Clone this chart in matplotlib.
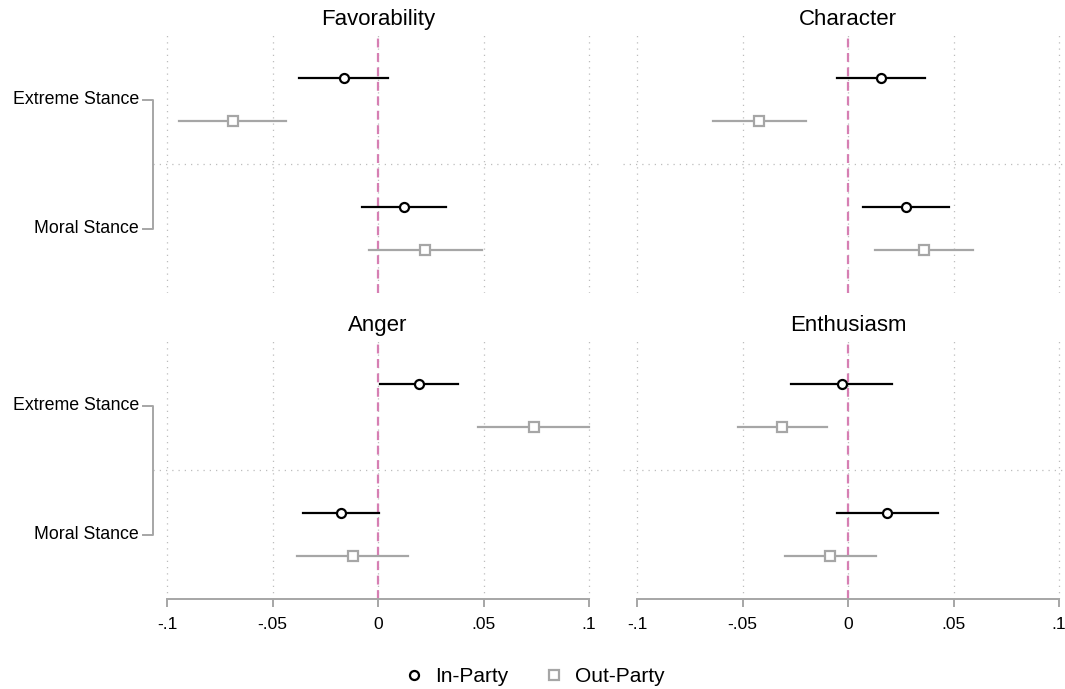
import numpy as np
import matplotlib
matplotlib.use("Agg")
import matplotlib.pyplot as plt
from matplotlib.lines import Line2D
import matplotlib.transforms as mtransforms

plt.rcParams['font.family'] = ['Liberation Sans', 'DejaVu Sans']

# panels and rows
panels = ["Favorability", "Character", "Anger", "Enthusiasm"]
stances = ["Extreme Stance", "Moral Stance"]
groups = ["In-Party", "Out-Party"]

# point estimates, order: [Extreme, Moral]
in_est = {
    "Favorability": [-0.0163, 0.0124],
    "Character": [0.0155, 0.0273],
    "Anger": [0.0195, -0.0176],
    "Enthusiasm": [-0.0030, 0.0186],
}
in_lo = {
    "Favorability": [-0.0373, -0.0075],
    "Character": [-0.0054, 0.0073],
    "Anger": [0.0011, -0.0356],
    "Enthusiasm": [-0.0269, -0.0051],
}
in_hi = {
    "Favorability": [0.0049, 0.0324],
    "Character": [0.0363, 0.0479],
    "Anger": [0.0379, 0.0006],
    "Enthusiasm": [0.0209, 0.0427],
}
out_est = {
    "Favorability": [-0.0688, 0.0223],
    "Character": [-0.0420, 0.0360],
    "Anger": [0.0737, -0.0120],
    "Enthusiasm": [-0.0311, -0.0084],
}
out_lo = {
    "Favorability": [-0.0941, -0.0045],
    "Character": [-0.0641, 0.0130],
    "Anger": [0.0476, -0.0384],
    "Enthusiasm": [-0.0523, -0.0300],
}
out_hi = {
    "Favorability": [-0.0435, 0.0493],
    "Character": [-0.0197, 0.0594],
    "Anger": [0.0999, 0.0142],
    "Enthusiasm": [-0.0098, 0.0134],
}

xticks = [-0.1, -0.05, 0, 0.05, 0.1]
xticklabels = ["-.1", "-.05", "0", ".05", ".1"]

W, H = 1065, 689
fig = plt.figure(figsize=(W / 100, H / 100), dpi=100)

in_color = "black"
out_color = "#a6a6a6"
zero_color = "#d67fb3"
grid_color = "#bdbdbd"

# axes placement in pixels (zero line at 378 / 848, 2110 px per unit)
xlim = (-0.1065, 0.1065)
ax_w = (xlim[1] - xlim[0]) * 2110
zeros_px = [378, 848]
tops_px = [35, 341]
ax_h = 258

axes = []
for i, name in enumerate(panels):
    r, c = divmod(i, 2)
    left = zeros_px[c] - ax_w / 2
    top = tops_px[r]
    ax = fig.add_axes([left / W, 1 - (top + ax_h) / H, ax_w / W, ax_h / H])
    axes.append(ax)

    ax.set_xlim(*xlim)
    ax.set_ylim(6, 0)
    for s in ax.spines.values():
        s.set_visible(False)
    ax.set_yticks([])

    # grid
    for xt in xticks:
        ax.axvline(xt, color=grid_color, lw=0.9, ls=(0, (1, 4)), zorder=0)
    ax.axhline(3, color=grid_color, lw=0.9, ls=(0, (1, 4)), zorder=0)
    ax.axvline(0, color=zero_color, lw=1.6, ls=(0, (4, 2.5)), zorder=1)

    for k in range(2):
        y_in = 1 + 3 * k
        y_out = 2 + 3 * k
        ax.plot([in_lo[name][k], in_hi[name][k]], [y_in, y_in], color=in_color, lw=1.6, zorder=2)
        ax.plot(in_est[name][k], y_in, marker="o", ms=6.5, mfc="white", mec=in_color, mew=1.6, zorder=3)
        ax.plot([out_lo[name][k], out_hi[name][k]], [y_out, y_out], color=out_color, lw=1.6, zorder=2)
        ax.plot(out_est[name][k], y_out, marker="s", ms=6.5, mfc="white", mec=out_color, mew=1.6, zorder=3)

    ax.set_title(name, fontsize=16, pad=7)

    if r == 1:
        ax.spines['bottom'].set_visible(True)
        ax.spines['bottom'].set_bounds(-0.1, 0.1)
        ax.spines['bottom'].set_color(out_color)
        ax.spines['bottom'].set_linewidth(1.4)
        ax.spines['bottom'].set_position(('data', 6))
        ax.set_xticks(xticks)
        ax.set_xticklabels(xticklabels, fontsize=12.5)
        ax.tick_params(axis='x', direction='out', length=6, width=1.4, color=out_color, pad=7)
    else:
        ax.set_xticks([])

    if c == 0:
        tr = mtransforms.blended_transform_factory(fig.transFigure, ax.transData)
        bx = 153 / W
        tx = 143 / W
        ys = [1.5, 4.5]
        fig.add_artist(Line2D([tx, bx, bx, tx], [ys[0], ys[0], ys[1], ys[1]],
                              transform=tr, color=out_color, lw=1.4))
        for lab, yy in zip(stances, ys):
            fig.text(139 / W, yy, lab, transform=tr, ha="right", va="center", fontsize=12.8)

handles = [
    Line2D([], [], ls="none", marker="o", ms=6.5, mfc="white", mec=in_color, mew=1.6),
    Line2D([], [], ls="none", marker="s", ms=6.5, mfc="white", mec=out_color, mew=1.6),
]
fig.legend(handles, groups, loc="center", bbox_to_anchor=(534 / W, 1 - 677 / H), ncol=2,
           frameon=False, fontsize=15, handletextpad=0.5, columnspacing=1.7, handlelength=1.0)

fig.savefig("out.png", dpi=100, facecolor="white")
